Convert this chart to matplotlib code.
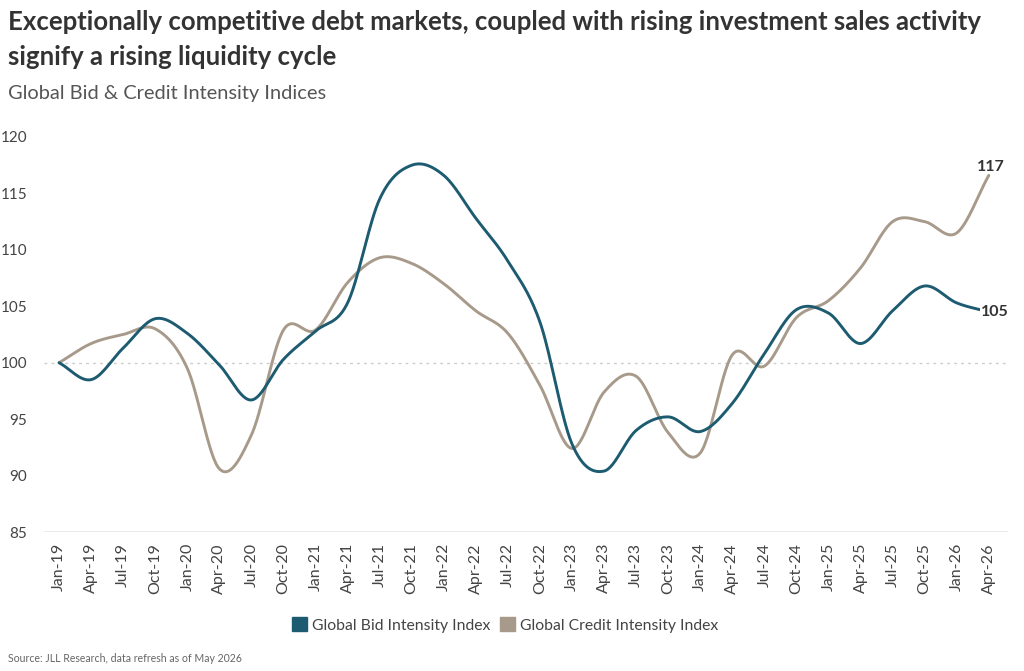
import numpy as np
import matplotlib
matplotlib.use("Agg")
import matplotlib.pyplot as plt
from matplotlib.patches import Patch

quarters = ["Jan-19", "Apr-19", "Jul-19", "Oct-19", "Jan-20", "Apr-20", "Jul-20", "Oct-20",
            "Jan-21", "Apr-21", "Jul-21", "Oct-21", "Jan-22", "Apr-22", "Jul-22", "Oct-22",
            "Jan-23", "Apr-23", "Jul-23", "Oct-23", "Jan-24", "Apr-24", "Jul-24", "Oct-24",
            "Jan-25", "Apr-25", "Jul-25", "Oct-25", "Jan-26", "Apr-26"]
bid = [100.0, 98.5, 101.3, 103.9, 102.6, 99.8, 96.7, 100.3,
       102.8, 105.3, 114.5, 117.5, 116.6, 112.8, 109.0, 103.6,
       92.8, 90.4, 94.0, 95.2, 93.9, 96.4, 100.8, 104.7,
       104.4, 101.7, 104.6, 106.8, 105.3, 104.5]
credit = [100.0, 101.7, 102.5, 103.0, 99.5, 90.6, 93.6, 102.9,
          102.9, 107.1, 109.3, 108.8, 107.0, 104.6, 102.6, 98.0,
          92.4, 97.4, 98.8, 93.8, 92.0, 100.7, 99.7, 104.0,
          105.5, 108.4, 112.5, 112.5, 111.5, 116.6]

BLUE = "#1d5b71"
TAN = "#a89a8b"


def catmull_rom(y, n=30):
    # smooth curve through every point, like the original "curved" line style
    y = np.asarray(y, dtype=float)
    p = np.concatenate([[2 * y[0] - y[1]], y, [2 * y[-1] - y[-2]]])
    xs, ys = [], []
    t = np.linspace(0, 1, n, endpoint=False)
    for i in range(len(y) - 1):
        p0, p1, p2, p3 = p[i], p[i + 1], p[i + 2], p[i + 3]
        m1 = (p2 - p0) / 2
        m2 = (p3 - p1) / 2
        h00 = 2 * t**3 - 3 * t**2 + 1
        h10 = t**3 - 2 * t**2 + t
        h01 = -2 * t**3 + 3 * t**2
        h11 = t**3 - t**2
        xs.append(i + t)
        ys.append(h00 * p1 + h10 * m1 + h01 * p2 + h11 * m2)
    xs.append([len(y) - 1])
    ys.append([y[-1]])
    return np.concatenate(xs), np.concatenate(ys)


plt.rcParams["font.family"] = ["Lato", "DejaVu Sans"]

fig = plt.figure(figsize=(10.24, 6.71), dpi=100)
ax = fig.add_axes([44 / 1024, 1 - 532 / 671, (1008 - 44) / 1024, (532 - 137) / 671])

x = np.arange(len(quarters))
ax.axhline(100, color="#cccccc", lw=1, ls=(0, (2, 3)), zorder=1)
ax.axhline(85, color="#e6e6e6", lw=1.2, zorder=1)

xs, ys = catmull_rom(bid)
ax.plot(xs, ys, color=BLUE, lw=2.1, solid_capstyle="round", zorder=3)
xs, ys = catmull_rom(credit)
ax.plot(xs, ys, color=TAN, lw=2.1, solid_capstyle="round", zorder=2)

ax.text(x[-1] + 0.05, credit[-1] + 0.15, "117", fontsize=11.5, fontweight="bold",
        color="#333333", ha="center", va="bottom")
ax.text(x[-1] - 0.25, bid[-1], "105", fontsize=11.5, fontweight="bold",
        color="#333333", ha="left", va="center", zorder=4,
        bbox=dict(boxstyle="square,pad=0.05", fc="white", ec="none"))

ax.set_xlim(-0.47, 29.6)
ax.set_ylim(85, 120)
ax.set_yticks([85, 90, 95, 100, 105, 110, 115, 120])
ax.set_xticks(x)
ax.set_xticklabels(quarters, rotation=90, fontsize=11.5, color="#444444")
ax.tick_params(axis="y", length=0, pad=12, labelsize=11, labelcolor="#444444")
ax.tick_params(axis="x", length=0, pad=8)
for s in ax.spines.values():
    s.set_visible(False)

fig.text(8 / 1024, 1 - 22 / 671, "Exceptionally competitive debt markets, coupled with rising investment sales activity",
         fontsize=18.5, fontweight="bold", color="#333333", va="center")
fig.text(8 / 1024, 1 - 57 / 671, "signify a rising liquidity cycle",
         fontsize=18.5, fontweight="bold", color="#333333", va="center")
fig.text(8 / 1024, 1 - 93 / 671, "Global Bid & Credit Intensity Indices",
         fontsize=14.4, color="#555555", va="center")
fig.text(8 / 1024, 1 - 658 / 671, "Source: JLL Research, data refresh as of May 2026",
         fontsize=7.6, color="#666666", va="center")

handles = [Patch(color=BLUE, label="Global Bid Intensity Index"),
           Patch(color=TAN, label="Global Credit Intensity Index")]
fig.legend(handles=handles, loc="center", bbox_to_anchor=(505 / 1024, 1 - 625 / 671),
           ncol=2, frameon=False, fontsize=11.3, handlelength=1.0, handleheight=1.0,
           handletextpad=0.3, columnspacing=0.6, labelcolor="#444444")

fig.savefig("out.png", dpi=100, facecolor="white")
